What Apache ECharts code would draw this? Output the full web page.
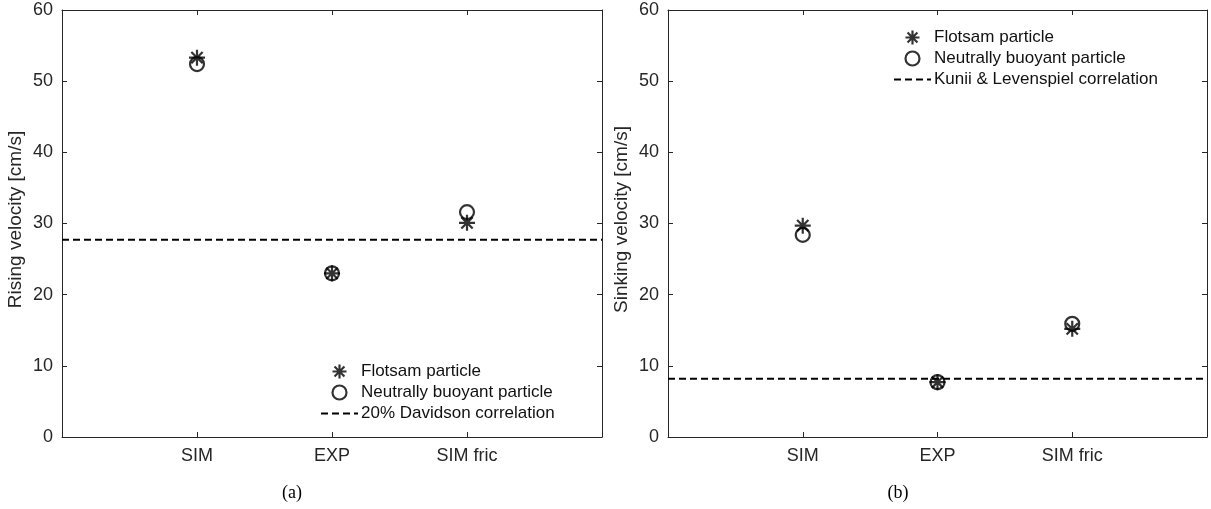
<!DOCTYPE html>
<html><head><meta charset="utf-8">
<script src="https://cdn.jsdelivr.net/npm/echarts@6/dist/echarts.min.js"></script>
<style>html,body{margin:0;padding:0;background:#fff}#c{width:1211px;height:509px}</style>
</head><body><div id="c"></div>
<script>
// ---- data ----
const categories = ['SIM', 'EXP', 'SIM fric'];
const categoryPositions = [1, 2, 3];
const risingFlotsam = [53.3, 23.0, 30.1];
const risingNeutral = [52.4, 23.0, 31.6];
const davidsonValue = 27.7;
const sinkingFlotsam = [29.7, 7.7, 15.2];
const sinkingNeutral = [28.4, 7.7, 15.9];
const kuniiValue = 8.2;
const yMin = 0, yMax = 60, yStep = 10;
const xMin = 0, xMax = 4;

// ---- styling ----
const FONT = '"Liberation Sans", Arial, Helvetica, sans-serif';
const AX = '#262626';
const STAR = 'path://M0,-10L0,10M-10,0L10,0M-7.07,-7.07L7.07,7.07M-7.07,7.07L7.07,-7.07';
const markerStyle = {color: 'rgba(0,0,0,0)', borderColor: '#000', borderWidth: 2.2};
const dashStyle = {color: '#000', width: 2, type: [7, 4]};

function pts(vals) { return vals.map((v, i) => [categoryPositions[i], v]); }
function flat(v) { return [[xMin, v], [xMax, v]]; }

const grids = [
  {left: 62, top: 10, width: 540, height: 427},
  {left: 668, top: 10, width: 539, height: 427}
];

const xAxes = [], yAxes = [];
const yNames = ['Rising velocity [cm/s]', 'Sinking velocity [cm/s]'];
const lineCommon = {show: true, onZero: false, lineStyle: {color: AX, width: 1}};
const tickCommon = {show: true, inside: true, length: 5, lineStyle: {color: AX, width: 1}};
[0, 1].forEach(g => {
  xAxes.push({
    type: 'value', gridIndex: g, min: xMin, max: xMax, interval: 1, position: 'bottom',
    axisLine: lineCommon, axisTick: tickCommon,
    axisLabel: {color: AX, fontSize: 18, fontFamily: FONT, margin: 10,
      formatter: v => { const k = categoryPositions.indexOf(v); return k >= 0 ? categories[k] : ''; }},
    splitLine: {show: false}
  });
  xAxes.push({
    type: 'value', gridIndex: g, min: xMin, max: xMax, interval: 1, position: 'top',
    axisLine: lineCommon, axisTick: tickCommon,
    axisLabel: {show: false}, splitLine: {show: false}
  });
  yAxes.push({
    type: 'value', gridIndex: g, min: yMin, max: yMax, interval: yStep, position: 'left',
    name: yNames[g], nameLocation: 'middle', nameGap: 37,
    nameTextStyle: {color: AX, fontSize: 19, fontFamily: FONT, padding: [0, 0, 0, 8]},
    axisLine: lineCommon, axisTick: tickCommon,
    axisLabel: {color: AX, fontSize: 18, fontFamily: FONT, margin: 9},
    splitLine: {show: false}
  });
  yAxes.push({
    type: 'value', gridIndex: g, min: yMin, max: yMax, interval: yStep, position: 'right',
    axisLine: lineCommon, axisTick: tickCommon,
    axisLabel: {show: false}, splitLine: {show: false}
  });
});

function panelSeries(g, flot, neut, lineVal, lineName) {
  return [
    {type: 'scatter', name: 'Flotsam particle', xAxisIndex: 2 * g, yAxisIndex: 2 * g,
     symbol: STAR, symbolSize: 16, itemStyle: markerStyle, data: pts(flot), z: 3},
    {type: 'scatter', name: 'Neutrally buoyant particle', xAxisIndex: 2 * g, yAxisIndex: 2 * g,
     symbol: 'circle', symbolSize: 14, itemStyle: markerStyle, data: pts(neut), z: 3},
    {type: 'line', name: lineName, xAxisIndex: 2 * g, yAxisIndex: 2 * g,
     symbol: 'none', showSymbol: false, itemStyle: {color: 'rgba(0,0,0,0)', borderWidth: 0},
     lineStyle: dashStyle, data: flat(lineVal), z: 2}
  ];
}

function legendFor(left, top, lineName) {
  return {
    orient: 'vertical', left: left, top: top, itemWidth: 37, itemHeight: 14, itemGap: 4,
    selectedMode: false, padding: 0,
    textStyle: {color: '#111', fontSize: 17, lineHeight: 17, fontFamily: FONT, padding: [0, 0, 0, -2]},
    data: [
      {name: 'Flotsam particle', icon: STAR, itemStyle: markerStyle},
      {name: 'Neutrally buoyant particle', icon: 'circle', itemStyle: markerStyle},
      {name: lineName, itemStyle: {color: 'rgba(0,0,0,0)', borderWidth: 0}}
    ]
  };
}

const option = {
  animation: false,
  backgroundColor: '#fff',
  grid: grids,
  xAxis: xAxes,
  yAxis: yAxes,
  legend: [
    legendFor(320, 363, '20% Davidson correlation'),
    legendFor(893, 29, 'Kunii & Levenspiel correlation')
  ],
  series: [].concat(
    panelSeries(0, risingFlotsam, risingNeutral, davidsonValue, '20% Davidson correlation'),
    panelSeries(1, sinkingFlotsam, sinkingNeutral, kuniiValue, 'Kunii & Levenspiel correlation')
  ),
  graphic: [
    {type: 'text', x: 292, y: 493, style: {text: '(a)', align: 'center', verticalAlign: 'middle', textAlign: 'center', textVerticalAlign: 'middle', fontSize: 18, fontFamily: '"Liberation Serif", "DejaVu Serif", serif', fill: '#000'}},
    {type: 'text', x: 898, y: 493, style: {text: '(b)', align: 'center', verticalAlign: 'middle', textAlign: 'center', textVerticalAlign: 'middle', fontSize: 18, fontFamily: '"Liberation Serif", "DejaVu Serif", serif', fill: '#000'}}
  ]
};

const chart = echarts.init(document.getElementById('c'), null, {renderer: 'canvas'});
chart.setOption(option);
</script>
</body></html>
